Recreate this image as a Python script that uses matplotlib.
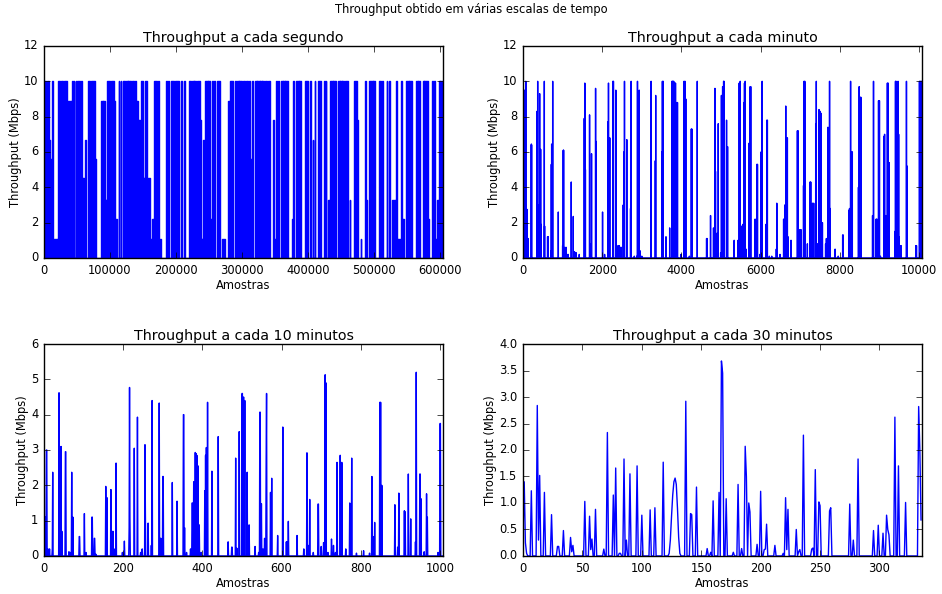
import numpy as np
import matplotlib
matplotlib.use('Agg')
import matplotlib.pyplot as plt

# --- dados ---
# 1 s: blocos (inicio em milhares de amostras, fim, topo em Mbps)
sec_start = [0, 4, 8, 10, 12, 15, 21, 26, 29, 31, 37, 43, 45, 48, 50, 56, 58, 60, 62, 66, 71, 77,
             86, 90, 93, 95, 101, 106, 109, 113, 116, 119, 122, 125, 128, 133, 138, 140, 143, 147,
             150, 153, 158, 160, 164, 167, 171, 173, 176, 185, 188, 192, 193, 199, 208, 212, 220,
             224, 228, 232, 236, 238, 241, 244, 249, 253, 255, 258, 262, 270, 279, 282, 289, 292,
             295, 301, 306, 310, 312, 315, 319, 323, 327, 331, 335, 339, 347, 349, 352, 355, 359,
             362.5, 365, 376, 378, 382, 386, 395, 403, 407, 410, 415, 424, 427, 431, 433, 438, 445,
             449, 451, 456, 463, 469, 474, 480, 486, 488, 493, 498, 508, 511.5, 519, 523, 528, 533,
             535, 541, 543, 548, 553, 563, 564, 567, 574, 576, 582, 588, 591, 594, 596, 598, 600]
sec_end = [3, 8, 9.5, 11.5, 14, 21, 25, 29, 31, 35, 42, 44.5, 46, 49, 54, 58, 60, 61.5, 64, 70, 77, 79,
           90, 92, 95, 100, 106, 108, 110.5, 114, 117, 122, 124, 127, 132, 136, 140, 143, 146, 150,
           152.5, 156, 160, 162, 166, 171, 172.5, 174, 178, 186, 189, 193, 197, 205, 209, 213, 223,
           228, 231, 236, 238, 241, 243, 249, 252, 254, 256, 259, 266, 274, 282, 287, 291, 295,
           300, 305, 309, 312, 314, 316, 322, 327, 330, 334, 338, 342, 349, 350, 353, 356, 361.5,
           365, 370, 377, 379, 386, 390, 400, 404, 408, 411, 420, 425, 428, 433, 438, 443, 448,
           451, 455, 460, 464, 474, 476, 481, 488, 489, 498, 501, 510.5, 514, 520, 524, 533, 535,
           539, 543, 546, 553, 558, 564, 566, 570, 576, 582, 584, 589, 592, 596, 598, 600, 604.8]
sec_top = [10, 10, 6.7, 5.6, 10, 1.1, 10, 10, 3.3, 10, 8.9, 10, 10, 10, 10, 10, 4.5, 3.3, 6.7, 10, 10,
           5.6, 8.9, 8.9, 3.3, 10, 10, 8.9, 2.2, 10, 10, 10, 5.6, 10, 10, 10, 10, 8.9, 7.8, 10, 4.5,
           10, 4.5, 1.1, 2.2, 10, 3.3, 10, 1.1, 10, 10, 8.9, 10, 10, 10, 10, 10, 10, 10, 10, 7.8,
           1.1, 6.7, 10, 10, 2.2, 10, 10, 10, 1.1, 8.9, 10, 10, 10, 10, 10, 10, 10, 5.6, 10, 10, 10,
           10, 10, 10, 10, 7.8, 1.1, 10, 10, 10, 10, 10, 2.2, 10, 10, 10, 10, 10, 6.7, 10, 10, 10,
           10, 3.3, 10, 10, 10, 10, 10, 10, 3.3, 10, 7.8, 1.1, 10, 3.3, 10, 10, 10, 10, 10, 10,
           3.3, 10, 1.1, 10, 2.2, 10, 10, 3.3, 10, 10, 10, 10, 2.2, 10, 10, 1.1, 3.3, 10, 10]
n_sec = 604800

# 1 min: (amostra, Mbps) -- restante em zero
min_idx = [18, 40, 70, 100, 130, 211, 215, 353, 370, 380, 420, 445, 455, 538, 545, 620, 635, 700, 715,
           723, 749, 891, 1000, 1017, 1025, 1060, 1090, 1110, 1140, 1218, 1269, 1300, 1340, 1420,
           1546, 1560, 1575, 1680, 1700, 1730, 1832, 1840, 2008, 2060, 2141, 2158, 2190, 2267, 2283,
           2343, 2370, 2400, 2430, 2460, 2480, 2530, 2545, 2562, 2620, 2715, 2730, 2810, 2870, 2890,
           2915, 2935, 2960, 3000, 3225, 3234, 3340, 3350, 3505, 3519, 3540, 3610, 3703, 3760, 3775,
           3790, 3805, 3818, 3830, 3850, 3865, 3880, 3900, 3990, 4065, 4090, 4110, 4200, 4249, 4265,
           4400, 4635, 4650, 4735, 4810, 4846, 4860, 4900, 4930, 4990, 5010, 5040, 5065, 5075, 5139,
           5165, 5332, 5430, 5459, 5484, 5520, 5550, 5580, 5592, 5610, 5630, 5710, 5736, 5750, 5860,
           5904, 5920, 5980, 6010, 6038, 6130, 6155, 6170, 6220, 6280, 6395, 6408, 6490, 6580, 6610,
           6634, 6650, 6675, 6690, 6768, 6928, 6945, 6990, 7020, 7083, 7096, 7115, 7180, 7247, 7265,
           7310, 7340, 7390, 7406, 7440, 7474, 7500, 7520, 7560, 7640, 7660, 7700, 7715, 7740, 7755,
           7880, 7960, 8071, 8085, 8224, 8245, 8271, 8290, 8302, 8315, 8470, 8489, 8510, 8530, 8826,
           8850, 8917, 8935, 8977, 9000, 9025, 9119, 9130, 9160, 9200, 9220, 9245, 9390, 9405, 9420,
           9450, 9470, 9485, 9495, 9520, 9545, 9682, 9700, 9920, 9935, 10010, 10030, 10050, 10070]
min_val = [0.5, 9.5, 10.0, 2.75, 1.1, 6.45, 6.4, 8.3, 10.0, 3.0, 9.3, 6.15, 1.9, 10.0, 1.8, 1.2, 1.2,
           0.4, 5.3, 6.45, 10.0, 2.6, 0.7, 6.1, 6.1, 0.6, 0.6, 0.2, 0.2, 4.3, 2.35, 0.35, 0.3, 0.2,
           7.9, 9.9, 5.0, 8.1, 0.8, 5.9, 9.6, 6.6, 2.6, 0.2, 7.7, 9.9, 6.8, 10.0, 10.0, 9.5, 0.6, 0.7,
           0.7, 0.6, 0.6, 3.0, 6.0, 10.0, 6.7, 2.8, 10.0, 0.1, 0.1, 10.0, 2.6, 9.5, 0.4, 0.1, 0.5,
           10.0, 5.5, 9.2, 6.0, 10.0, 10.0, 1.2, 1.7, 10.0, 10.0, 10.0, 10.0, 9.9, 9.9, 9.9, 8.8, 8.4,
           8.8, 0.2, 10.0, 10.0, 9.0, 0.1, 7.3, 7.3, 10.0, 1.1, 1.1, 2.4, 1.7, 9.6, 4.9, 1.4, 7.6, 0.3,
           9.2, 9.7, 10.0, 10.0, 7.8, 6.3, 1.0, 1.0, 9.9, 10.0, 1.8, 1.9, 8.8, 9.9, 10.0, 0.5, 6.5,
           9.7, 9.7, 2.2, 5.3, 5.3, 0.2, 6.0, 10.0, 1.9, 7.8, 7.8, 0.1, 0.1, 0.5, 3.1, 0.2, 2.2, 3.0,
           8.6, 6.8, 6.8, 1.2, 1.0, 7.2, 7.2, 1.6, 1.6, 4.1, 10.0, 10.0, 0.8, 4.3, 4.3, 3.1, 3.1, 7.6,
           10.0, 0.8, 8.4, 8.3, 8.2, 2.0, 0.8, 1.1, 7.4, 2.8, 10.0, 2.8, 0.5, 0.1, 1.3, 1.3, 2.7, 2.8,
           10.0, 2.6, 6.0, 6.0, 4.0, 9.7, 9.1, 9.1, 2.4, 10.0, 2.2, 2.2, 8.9, 8.9, 0.1, 6.9, 7.0, 2.4,
           9.9, 9.9, 5.4, 1.5, 10.0, 10.0, 9.9, 10.0, 7.0, 1.2, 0.7, 0.7, 10.0, 5.2, 0.7, 0.7, 10.0,
           10.0, 10.0, 10.0]
n_min = 10080

# 10 min
dez_idx = [4, 6, 7, 10, 14, 21, 22, 38, 40, 43, 45, 54, 55, 63, 66, 70, 73, 89, 90, 102, 106, 121, 122,
           127, 128, 131, 156, 159, 169, 174, 177, 182, 198, 203, 215, 216, 217, 228, 236, 244, 248,
           255, 256, 263, 271, 273, 291, 293, 295, 300, 301, 324, 336, 352, 353, 355, 360, 370, 374,
           375, 378, 382, 384, 386, 389, 392, 397, 406, 408, 410, 413, 424, 440, 465, 474, 475, 484,
           487, 493, 500, 501, 503, 504, 507, 513, 518, 533, 542, 545, 546, 549, 553, 557, 561, 562,
           572, 575, 590, 603, 612, 614, 617, 639, 656, 664, 667, 671, 680, 692, 693, 700, 706, 710,
           712, 717, 726, 731, 736, 740, 748, 752, 762, 772, 777, 789, 807, 822, 828, 831, 835, 848,
           850, 853, 886, 893, 896, 910, 912, 920, 926, 938, 940, 949, 950, 952, 960, 966, 968, 995,
           1000, 1001]
dez_val = [1.1, 3.0, 3.0, 0.2, 0.2, 0.2, 2.37, 4.62, 0.3, 3.1, 0.7, 2.95, 2.95, 0.12, 0.1, 2.37, 1.1,
           0.55, 0.55, 1.2, 0.1, 1.1, 1.1, 0.5, 0.5, 0.05, 1.97, 1.65, 1.88, 0.7, 0.2, 2.63, 0.1, 0.42,
           0.8, 4.77, 1.1, 3.05, 3.93, 0.1, 0.2, 3.15, 1.25, 0.93, 0.3, 4.4, 4.33, 0.5, 0.5, 2.25,
           2.25, 2.08, 1.55, 4.0, 4.0, 0.8, 0.1, 0.2, 1.5, 1.5, 2.1, 2.93, 2.9, 2.85, 2.55, 0.88, 0.1,
           1.85, 2.85, 3.07, 4.35, 2.4, 3.38, 0.4, 0.25, 0.25, 2.77, 0.22, 3.52, 4.6, 4.6, 2.65, 4.5,
           4.4, 2.37, 0.88, 0.27, 0.1, 4.07, 4.07, 1.48, 0.2, 0.5, 2.73, 4.6, 1.8, 2.2, 0.58, 3.65,
           0.4, 0.4, 0.98, 0.58, 0.2, 2.92, 0.3, 1.6, 0.1, 1.47, 1.47, 0.27, 0.38, 5.13, 4.9, 0.1,
           0.48, 0.3, 0.1, 2.65, 2.85, 2.65, 0.2, 1.5, 2.77, 0.08, 0.15, 0.08, 2.25, 0.55, 0.95, 4.35,
           4.35, 2.0, 1.45, 0.25, 1.78, 1.28, 1.25, 2.32, 1.05, 0.4, 5.2, 2.32, 2.32, 1.62, 0.12,
           1.76, 1.1, 0.1, 3.75, 3.75]
n_dez = 1008

# 30 min
tri_idx = [0, 1, 2, 3, 7, 12, 13, 14, 18, 24, 29, 30, 34, 40, 41, 42, 52, 56, 57, 58, 61, 68, 71, 76,
           78, 81, 82, 85, 87, 90, 96, 100, 107, 111, 118, 123, 124, 125, 126, 127, 128, 129, 130,
           131, 132, 137, 141, 142, 146, 155, 158, 160, 165, 167, 168, 171, 177, 181, 184, 187, 188,
           190, 191, 197, 200, 203, 204, 205, 212, 219, 221, 222, 223, 230, 232, 233, 236, 243, 244,
           246, 249, 250, 258, 259, 275, 278, 282, 295, 299, 303, 306, 307, 308, 313, 316, 322, 333,
           334, 335]
tri_val = [0.4, 1.4, 0.25, 0.05, 1.23, 2.84, 0.3, 1.52, 1.2, 0.78, 0.18, 0.18, 0.48, 0.35, 0.08, 0.2,
           1.03, 0.75, 0.12, 0.32, 0.88, 0.13, 2.33, 1.15, 1.66, 0.05, 0.05, 1.83, 0.3, 1.55, 1.7,
           0.77, 0.87, 0.91, 1.77, 0.05, 0.3, 0.75, 1.15, 1.4, 1.47, 1.35, 0.9, 0.35, 0.05, 2.92, 0.8,
           0.78, 1.3, 0.14, 0.07, 1.04, 1.2, 3.68, 3.45, 1.08, 0.07, 1.35, 0.14, 2.07, 1.5, 1.0, 0.83,
           0.22, 1.22, 0.12, 0.13, 0.6, 0.2, 0.05, 1.1, 0.12, 0.88, 0.5, 0.08, 0.12, 2.28, 0.13, 0.15,
           1.63, 1.02, 0.95, 0.85, 0.91, 0.98, 0.3, 1.83, 0.48, 0.58, 0.43, 0.77, 0.5, 0.4, 2.62, 1.7,
           1.01, 2.82, 2.0, 0.68]
n_tri = 336


def serie(n, idx, val):
    y = np.zeros(n)
    y[np.array(idx)] = val
    return y


plt.style.use('classic')
plt.rcParams['font.size'] = 8.3
plt.rcParams['font.family'] = ['DejaVu Sans']

fig, axes = plt.subplots(2, 2, figsize=(9.42, 5.94), dpi=100)
fig.patch.set_facecolor('white')
fig.subplots_adjust(left=0.0467, right=0.979, bottom=0.064, top=0.9226, wspace=0.2, hspace=0.406)
fig.suptitle('Throughput obtido em várias escalas de tempo', y=0.995, fontsize=8.3)

# segundo: envelope dos blocos
xs = [0]
ys = [0]
for s, e, t in zip(sec_start, sec_end, sec_top):
    xs += [s * 1000, s * 1000, e * 1000, e * 1000]
    ys += [0, t, t, 0]
xs.append(n_sec)
ys.append(0)
ax = axes[0, 0]
ax.fill_between(xs, ys, color='b', lw=0)
ax.plot(xs, ys, 'b', lw=1)
ax.set_xlim(0, n_sec)
ax.set_ylim(0, 12)
ax.set_title('Throughput a cada segundo', fontsize=10.3, pad=3)

ax = axes[0, 1]
ax.plot(np.arange(n_min), serie(n_min, min_idx, min_val), 'b', lw=1)
ax.set_xlim(0, n_min)
ax.set_ylim(0, 12)
ax.set_title('Throughput a cada minuto', fontsize=10.3, pad=3)

ax = axes[1, 0]
ax.plot(np.arange(n_dez), serie(n_dez, dez_idx, dez_val), 'b', lw=1)
ax.set_xlim(0, n_dez)
ax.set_ylim(0, 6)
ax.set_title('Throughput a cada 10 minutos', fontsize=10.3, pad=3)

ax = axes[1, 1]
ax.plot(np.arange(n_tri), serie(n_tri, tri_idx, tri_val), 'b', lw=1)
ax.set_xlim(0, n_tri)
ax.set_ylim(0, 4)
ax.set_title('Throughput a cada 30 minutos', fontsize=10.3, pad=3)

for ax in axes.flat:
    ax.set_xlabel('Amostras', labelpad=1.5)
    ax.set_ylabel('Throughput (Mbps)', labelpad=1.5)
    ax.tick_params(labelsize=8.3)

fig.savefig('out.png', dpi=100, facecolor='white')
